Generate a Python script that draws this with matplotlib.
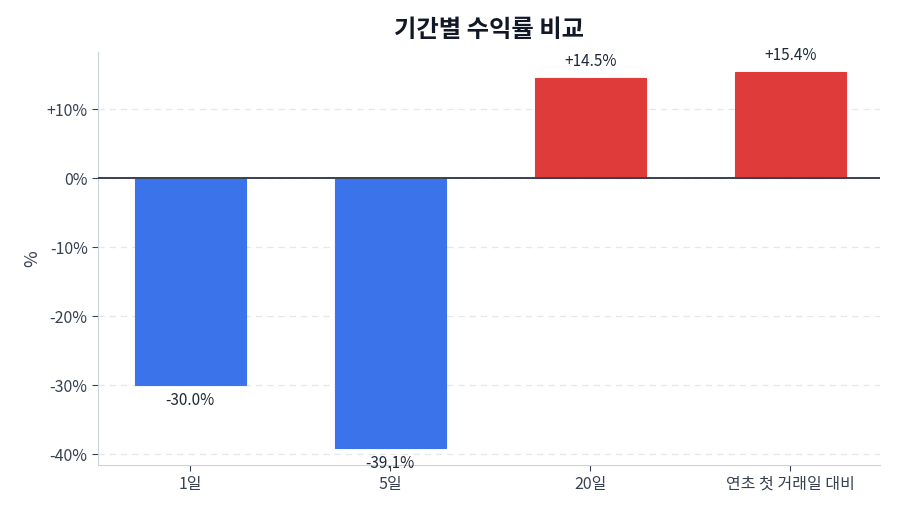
import matplotlib.pyplot as plt

plt.rcParams['font.family'] = ['Noto Sans CJK KR', 'DejaVu Sans']

periods = ['1일', '5일', '20일', '연초 첫 거래일 대비']
returns = [-30.0, -39.1, 14.5, 15.4]
yticks = [10, 0, -10, -20, -30, -40]
ytick_labels = ['+10%', '0%', '-10%', '-20%', '-30%', '-40%']

colors = ['#E03B3B' if v > 0 else '#3B73EB' for v in returns]

fig, ax = plt.subplots(figsize=(9, 5.14), dpi=100)
fig.subplots_adjust(left=0.109, right=0.978, top=0.899, bottom=0.095)

x = range(len(periods))
ax.bar(x, returns, width=0.555, color=colors, edgecolor=colors, linewidth=0.8, zorder=3)
ax.axhline(0, color='#374151', linewidth=1.4, zorder=4)

for i, v in enumerate(returns):
    if v > 0:
        ax.annotate(f'+{v:.1f}%', (i, v), xytext=(0, 6), textcoords='offset points',
                    ha='center', va='bottom', fontsize=11, color='#1f2937')
    else:
        ax.annotate(f'{v:.1f}%', (i, v), xytext=(0, -5), textcoords='offset points',
                    ha='center', va='top', fontsize=11, color='#1f2937')

ax.set_xlim(-0.46, 3.45)
ax.set_ylim(-41.6, 18.3)
ax.set_xticks(list(x))
ax.set_xticklabels(periods, fontsize=11.5, color='#374151')
ax.set_yticks(yticks)
ax.set_yticklabels(ytick_labels, fontsize=11.5, color='#374151')
ax.set_ylabel('%', fontsize=13, color='#374151')
ax.set_title('기간별 수익률 비교', fontsize=17.5, fontweight='bold', color='#111827', pad=11)

ax.grid(axis='y', linestyle=(0, (5, 4)), color='#e5e7eb', linewidth=0.9, zorder=0)
for s in ['top', 'right']:
    ax.spines[s].set_visible(False)
for s in ['left', 'bottom']:
    ax.spines[s].set_color('#cbd2dc')
ax.tick_params(axis='both', color='#374151', length=4)

plt.savefig('out.png', dpi=100)
